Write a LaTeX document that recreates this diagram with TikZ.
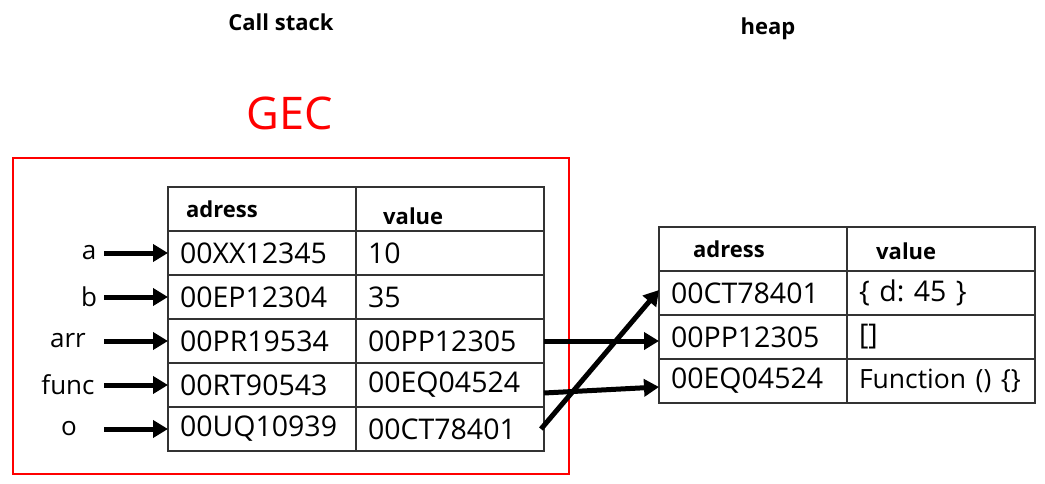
\documentclass[tikz,border=0pt]{standalone}
\usepackage{fontspec}
\setmainfont{Open Sans}
\usetikzlibrary{positioning, arrows.meta}
\frenchspacing

\begin{document}
\begin{tikzpicture}[x=1pt, y=-1pt, node distance=0pt,
  cell/.style={draw=black!80, line width=1.5pt, rectangle, outer sep=0pt,
    inner xsep=12pt, inner ysep=0pt, text width=164pt, minimum height=44pt,
    align=left, font=\fontsize{28.5}{28.5}\selectfont},
  hdr/.style={font=\bfseries\fontsize{22}{22}\selectfont, inner sep=0pt},
  title/.style={font=\bfseries\fontsize{22}{22}\selectfont},
  lbl/.style={font=\fontsize{26}{26}\selectfont},
  ptr/.style={-{Triangle[length=15pt, width=17pt]}, line width=5pt}]
  \useasboundingbox (0,0) rectangle (1045,484);

  % titles
  \node[title] (cs) at (281,22) {Call stack};
  \node[title] (hp) at (768,29) {heap};
  \node[red, font=\fontsize{45}{45}\selectfont] (gec) at (290,113) {GEC};
  \node[draw=red, line width=2pt, minimum width=556pt, minimum height=316pt,
    anchor=north west] (gecbox) at (12,157) {};

  % stack table
  \node[cell, anchor=north west] (sk0) at (168,187) {};
  \node[cell, right=of sk0] (sv0) {};
  \node[hdr, anchor=west] (tk0) at ([xshift=18pt]sk0.west) {adress};
  \node[hdr, anchor=west] (tv0) at ([xshift=27pt, yshift=-7pt]sv0.west) {value};
  \foreach \k/\v [count=\i] in {00XX12345/10, 00EP12304/35, 00PR19534/00PP12305,
      00RT90543/00EQ04524, 00UQ10939/00CT78401}{
    \pgfmathtruncatemacro\j{\i-1}
    \node[cell, below=of sk\j] (sk\i) {\k};
    \node[cell, right=of sk\i] (sv\i) {\v};
  }

  % variable names
  \foreach \n/\x [count=\i] in {a/89, b/89, arr/68, func/68, o/69}{
    \node[lbl] (n\i) at (sk\i.west -| \x,0) {\n};
    \coordinate (p\i) at (sk\i.west -| 104,0);
    \draw[ptr] (p\i) -- (sk\i.west);
  }

  % heap table
  \node[cell, anchor=north west] (hk0) at (659,227) {};
  \node[cell, right=of hk0] (hv0) {};
  \node[hdr, anchor=west] (tk1) at ([xshift=34pt]hk0.west) {adress};
  \node[hdr, anchor=west] (tv1) at ([xshift=29pt, yshift=-2pt]hv0.west) {value};
  \foreach \k/\v [count=\i] in {00CT78401/\{ d: 45 \}, 00PP12305/{[]},
      00EQ04524/\mbox{\fontsize{26.5}{26.5}\selectfont Function () \{\}}}{
    \pgfmathtruncatemacro\j{\i-1}
    \node[cell, below=of hk\j] (hk\i) {\k};
    \node[cell, right=of hk\i] (hv\i) {\v};
  }

  % references into the heap
  \draw[ptr] (sv3.east) -- (sv3.east -| hk2.west);
  \draw[ptr] ([yshift=-8pt]sv4.east) -- ([yshift=-6pt]hk3.west);
  \draw[ptr] ([xshift=-3pt]sv5.east) -- ([yshift=3pt]hk1.west);
\end{tikzpicture}
\end{document}
